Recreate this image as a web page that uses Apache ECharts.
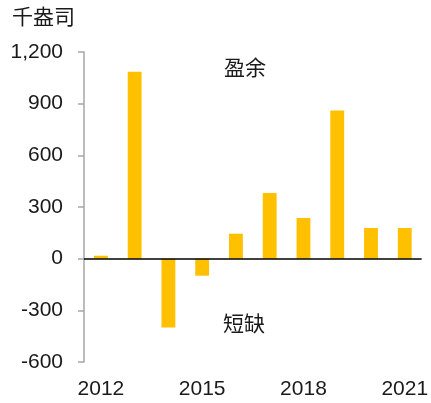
<!DOCTYPE html>
<html>
<head>
<meta charset="utf-8">
<script src="https://cdn.jsdelivr.net/npm/echarts@6/dist/echarts.min.js"></script>
<style>
  html, body { margin: 0; padding: 0; background: #fff; }
  #chart { width: 431px; height: 403px; }
</style>
</head>
<body>
<div id="chart"></div>
<script>
var years = ["2012", "2013", "2014", "2015", "2016", "2017", "2018", "2019", "2020", "2021"];
var balance = [17, 1085, -400, -99, 145, 381, 236, 860, 178, 178];
var yTicks = [-600, 1200, 300];

var myChart = echarts.init(document.getElementById("chart"));
var font = "'Liberation Sans', 'Noto Sans CJK SC', sans-serif";

var option = {
  animation: false,
  textStyle: { fontFamily: font },
  grid: { left: 84, right: 7, top: 52, bottom: 41 },
  xAxis: {
    type: "category",
    data: years,
    axisLine: { show: false, onZero: false },
    axisTick: { show: false },
    axisLabel: { interval: 2, color: "#1a1a1a", fontSize: 21, margin: 17, fontFamily: font },
  },
  yAxis: {
    type: "value",
    min: yTicks[0],
    max: yTicks[1],
    interval: yTicks[2],
    splitLine: { show: false },
    axisLine: { show: true, lineStyle: { color: "#a6a6a6", width: 1.5 } },
    axisTick: { show: true, length: 6, lineStyle: { color: "#a6a6a6", width: 1.5 } },
    axisLabel: {
      color: "#1a1a1a",
      fontSize: 21,
      margin: 21,
      fontFamily: font,
      formatter: function (v) { return v.toLocaleString("en-US"); },
    },
  },
  series: [
    {
      type: "bar",
      data: balance,
      barWidth: "41%",
      itemStyle: { color: "#ffc000" },
      markLine: {
        silent: true,
        symbol: "none",
        label: { show: false },
        lineStyle: { color: "#000", type: "solid", width: 1.5 },
        data: [{ yAxis: 0 }],
      },
    },
  ],
  graphic: [
    { type: "text", left: 12, top: 8, style: { text: "千盎司", fontSize: 21, fill: "#1a1a1a", fontFamily: font } },
    { type: "text", left: 224, top: 59, style: { text: "盈余", fontSize: 21, fill: "#1a1a1a", fontFamily: font } },
    { type: "text", left: 223, top: 315, style: { text: "短缺", fontSize: 21, fill: "#1a1a1a", fontFamily: font } },
  ],
};

myChart.setOption(option);
window.addEventListener("resize", myChart.resize);
</script>
</body>
</html>
